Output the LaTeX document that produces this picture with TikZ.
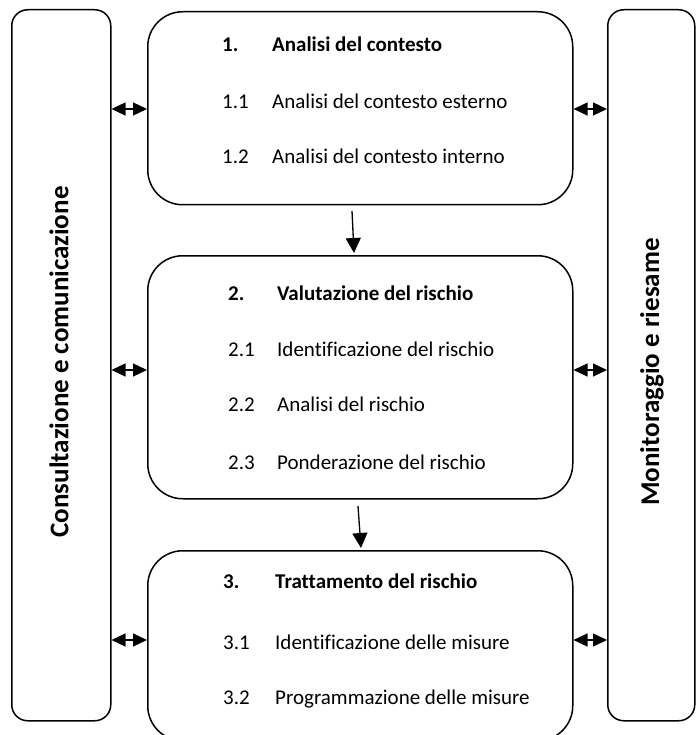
\documentclass[tikz,border=0pt]{standalone}
\usepackage{fontspec}
\setmainfont{Carlito}[Ligatures=NoCommon]
\usetikzlibrary{arrows.meta}
\begin{document}
\begin{tikzpicture}[x=1pt,y=-1pt,
  box/.style={draw, line width=1.5pt, rounded corners=35pt, anchor=north west, inner sep=0pt, minimum width=425pt},
  side/.style={draw, line width=1.5pt, rounded corners=16pt, anchor=north west, inner sep=0pt},
  dbl/.style={line width=1.2pt, {Triangle[length=14pt,width=13pt]}-{Triangle[length=14pt,width=13pt]}},
  down/.style={line width=1.3pt, -{Triangle[length=15pt,width=15pt]}},
  num/.style={anchor=base west, inner sep=0pt, font=\fontsize{21}{25}\selectfont},
  txt/.style={anchor=base west, inner sep=0pt, font=\fontsize{21}{25}\selectfont},
  ttl/.style={anchor=base west, inner sep=0pt, font=\bfseries\fontsize{21}{25}\selectfont},
  sidetxt/.style={rotate=90, inner sep=0pt, font=\bfseries\fontsize{27}{32}\selectfont}
]
\useasboundingbox (0,0) rectangle (696,735);
\clip (0,0) rectangle (696,735);
% side boxes
\node[side, minimum width=99pt, minimum height=711pt] (cl) at (11,9) {};
\node[side, minimum width=87pt, minimum height=711pt] (cr) at (607,9) {};
\node[sidetxt] (cltxt) at (59,362) {Consultazione e comunicazione};
\node[sidetxt] (crtxt) at (652,372) {Monitoraggio e riesame};
% main boxes
\node[box, minimum height=193pt] (b1) at (147,11) {};
\node[box, minimum height=243pt] (b2) at (147,255) {};
\node[box, minimum height=190pt] (b3) at (147,550) {};
% box 1 text
\node[ttl] (n1) at (222,51.5) {1.};
\node[ttl] (t1) at (272,51.5) {Analisi del contesto};
\node[num] (n11) at (222,108.5) {1.1};
\node[txt] (t11) at (272,108.5) {Analisi del contesto esterno};
\node[num] (n12) at (222,164) {1.2};
\node[txt] (t12) at (272,164) {Analisi del contesto interno};
% box 2 text
\node[ttl] (n2) at (228,300.5) {2.};
\node[ttl] (t2) at (277,300.5) {Valutazione del rischio};
\node[num] (n21) at (228,356.5) {2.1};
\node[txt] (t21) at (277,356.5) {Identificazione del rischio};
\node[num] (n22) at (228,411.5) {2.2};
\node[txt] (t22) at (277,411.5) {Analisi del rischio};
\node[num] (n23) at (228,469.5) {2.3};
\node[txt] (t23) at (277,469.5) {Ponderazione del rischio};
% box 3 text
\node[ttl] (n3) at (223,588.5) {3.};
\node[ttl] (t3) at (275,588.5) {Trattamento del rischio};
\node[num] (n31) at (223,649.5) {3.1};
\node[txt] (t31) at (275,649.5) {Identificazione delle misure};
\node[num] (n32) at (223,704.5) {3.2};
\node[txt] (t32) at (275,704.5) {Programmazione delle misure};
% connector levels
\coordinate (a1) at (0,109);
\coordinate (a2) at (0,370);
\coordinate (a3) at (0,640);
\draw[dbl] (cl.east |- a1) -- (b1.west |- a1);
\draw[dbl] (cl.east |- a2) -- (b2.west |- a2);
\draw[dbl] (cl.east |- a3) -- (b3.west |- a3);
\draw[dbl] (b1.east |- a1) -- (cr.west |- a1);
\draw[dbl] (b2.east |- a2) -- (cr.west |- a2);
\draw[dbl] (b3.east |- a3) -- (cr.west |- a3);
% down arrows
\coordinate (d1s) at (352,211);
\coordinate (d1e) at (354,253);
\coordinate (d2s) at (358,506);
\coordinate (d2e) at (361,548);
\draw[down] (d1s) -- (d1e);
\draw[down] (d2s) -- (d2e);
\end{tikzpicture}
\end{document}
